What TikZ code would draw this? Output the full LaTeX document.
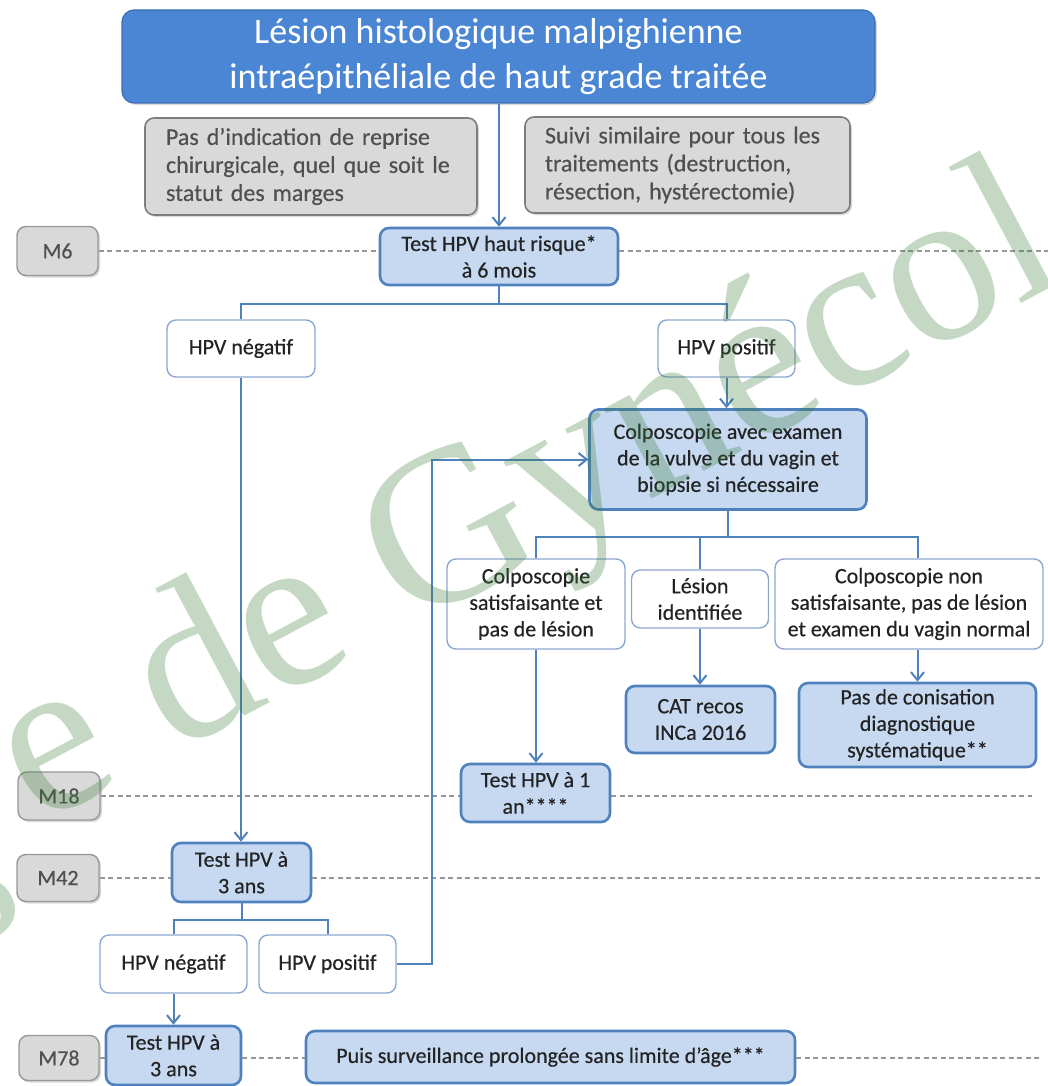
\documentclass[tikz,border=0pt]{standalone}
\usepackage{fontspec}
\setmainfont{Carlito}[FakeBold=0.45]
\newfontfamily\titlefont{Carlito}
\newfontfamily\wmfont{Liberation Serif}
\usetikzlibrary{arrows.meta,shadows}
\definecolor{titleblue}{RGB}{74,134,212}
\definecolor{titleborder}{RGB}{62,110,180}
\definecolor{lightblue}{RGB}{198,217,241}
\definecolor{blueline}{RGB}{79,129,189}
\definecolor{grayfill}{RGB}{217,217,217}
\definecolor{grayborder}{RGB}{125,125,125}
\definecolor{graytext}{RGB}{80,80,80}
\definecolor{whiteborder}{RGB}{140,168,208}
\definecolor{txt}{RGB}{35,35,35}
\definecolor{dashgray}{RGB}{150,150,150}
\definecolor{wmgreen}{RGB}{60,125,60}
\tikzset{
  box/.style={rounded corners=9pt, inner sep=0pt, align=center, text=txt,
    font=\fontsize{22}{26.5}\selectfont},
  bluebox/.style={box, fill=lightblue, draw=blueline, line width=2.6pt},
  whitebox/.style={box, fill=white, draw=whiteborder, line width=1.4pt},
  graybox/.style={box, fill=grayfill, draw=grayborder, line width=1.6pt, text=graytext,
    align=left, font=\fontsize{24}{28}\selectfont,
    drop shadow={shadow xshift=2pt, shadow yshift=-2pt, opacity=0.3}},
  mbox/.style={box, fill=grayfill, draw=grayborder!80, line width=1.4pt, text=graytext,
    font=\fontsize{22}{24}\selectfont,
    drop shadow={shadow xshift=2pt, shadow yshift=-2pt, opacity=0.3}},
  titlebox/.style={box, fill=titleblue, draw=titleborder, line width=1.2pt, text=white,
    font=\titlefont\fontsize{36}{45}\selectfont, rounded corners=12pt,
    drop shadow={shadow xshift=2pt, shadow yshift=-2pt, opacity=0.3}},
  conn/.style={draw=blueline, line width=2pt},
  arr/.style={conn, -{Straight Barb[length=8pt,width=13pt]}},
  timeline/.style={draw=dashgray, line width=1.6pt, dash pattern=on 5pt off 3.5pt},
  wm/.style={font=\wmfont\fontsize{222}{222}\selectfont, text=wmgreen, text opacity=0.3, inner sep=0pt}
}
\begin{document}
\begin{tikzpicture}[x=1pt,y=-1pt]
\useasboundingbox (0,0) rectangle (1048,1086);
% nodes
\node[titlebox, minimum width=753, minimum height=93] (title) at (498.5,56.5)
  {Lésion histologique malpighienne\\intraépithéliale de haut grade traitée};
\node[graybox, minimum width=332, minimum height=97, text width=290] (gray1) at (311,166.5)
  {Pas d’indication de reprise\\chirurgicale, quel que soit le\\statut des marges};
\node[graybox, minimum width=325, minimum height=96, text width=285] (gray2) at (687.5,165)
  {Suivi similaire pour tous les\\traitements (destruction,\\résection, hystérectomie)};
\node[mbox, minimum width=81, minimum height=49] (M6) at (57.5,251) {M6};
\node[bluebox, minimum width=238, minimum height=57] (test6) at (499,256.5) {Test HPV haut risque*\\à 6 mois};
\node[whitebox, minimum width=148, minimum height=57] (neg1) at (241,348.5) {HPV négatif};
\node[whitebox, minimum width=137, minimum height=57] (pos1) at (726.5,348.5) {HPV positif};
\node[bluebox, minimum width=277, minimum height=100] (colpo) at (728,459.5)
  {Colposcopie avec examen\\de la vulve et du vagin et\\biopsie si nécessaire};
\node[whitebox, minimum width=178, minimum height=90] (sat) at (536,604)
  {Colposcopie\\satisfaisante et\\pas de lésion};
\node[whitebox, minimum width=137, minimum height=58] (lesion) at (700,599) {Lésion\\identifiée};
\node[whitebox, minimum width=268, minimum height=90] (non) at (909,604)
  {Colposcopie non\\satisfaisante, pas de lésion\\et examen du vagin normal};
\node[bluebox, minimum width=149, minimum height=67] (cat) at (700.5,719.5) {CAT recos\\INCa 2016};
\node[bluebox, minimum width=237, minimum height=84] (pasconis) at (917.5,725)
  {Pas de conisation\\diagnostique\\systématique**};
\node[bluebox, minimum width=149, minimum height=58] (test1an) at (535.5,793) {Test HPV à 1\\an****};
\node[mbox, minimum width=82, minimum height=48] (M18) at (59,796) {M18};
\node[bluebox, minimum width=139, minimum height=59] (test3a) at (241.5,872.5) {Test HPV à\\3 ans};
\node[mbox, minimum width=82, minimum height=47] (M42) at (58,878) {M42};
\node[whitebox, minimum width=147, minimum height=58] (neg2) at (173.5,964) {HPV négatif};
\node[whitebox, minimum width=137, minimum height=58] (pos2) at (327.5,964) {HPV positif};
\node[bluebox, minimum width=135, minimum height=59] (test3b) at (173.5,1055.5) {Test HPV à\\3 ans};
\node[mbox, minimum width=80, minimum height=45] (M78) at (59,1058) {M78};
\node[bluebox, minimum width=489, minimum height=52] (surv) at (550.5,1057)
  {Puis surveillance prolongée sans limite d’âge***};
% timeline ends
\coordinate (e6) at (1048,251);
\coordinate (e18) at (1032,796);
\coordinate (e42) at (1040,878);
\coordinate (e78) at (1040,1058);
% timelines
\draw[timeline] (M6.east) -- (test6.west |- M6.east);
\draw[timeline] (test6.east |- M6.east) -- (e6);
\draw[timeline] (M18.east) -- (test1an.west |- M18.east);
\draw[timeline] (test1an.east |- M18.east) -- (e18);
\draw[timeline] (M42.east) -- (test3a.west |- M42.east);
\draw[timeline] (test3a.east |- M42.east) -- (e42);
\draw[timeline] (M78.east) -- (test3b.west |- M78.east);
\draw[timeline] (test3b.east |- M78.east) -- (surv.west |- M78.east);
\draw[timeline] (surv.east |- M78.east) -- (e78);
% connectors
\draw[arr] (title.south -| test6.north) -- (test6.north);
\draw[conn] (test6.south) -- ++(0,18) -| (neg1.north);
\draw[conn] (test6.south) -- ++(0,18) -| (pos1.north);
\draw[arr] (pos1.south) -- (pos1.south |- colpo.north);
\draw[arr] (neg1.south) -- (neg1.south |- test3a.north);
\draw[conn] (colpo.south) -- ++(0,26) -| (sat.north);
\draw[conn] (colpo.south) -- ++(0,26) -| (lesion.north);
\draw[conn] (colpo.south) -- ++(0,26) -| (pasconis.north |- non.north);
\draw[arr] (sat.south) -- (sat.south |- test1an.north);
\draw[arr] (lesion.south) -- (lesion.south |- cat.north);
\draw[arr] (pasconis.north |- non.south) -- (pasconis.north);
\draw[conn] (test3a.south) -- ++(0,17) -| (neg2.north);
\draw[conn] (test3a.south) -- ++(0,17) -| (pos2.north);
\draw[arr] (neg2.south) -- (neg2.south |- test3b.north);
\draw[arr] (pos2.east) -- ++(35,0) |- (colpo.west);
% watermark
\begin{scope}
\clip (0,0) rectangle (1048,1086);
\node[wm, rotate=28, anchor=base west] (wmA) at (38,826) {e de Gynécol};
\node[wm, rotate=28] (wmB) at (-30,892) {s};
\end{scope}
\end{tikzpicture}
\end{document}
